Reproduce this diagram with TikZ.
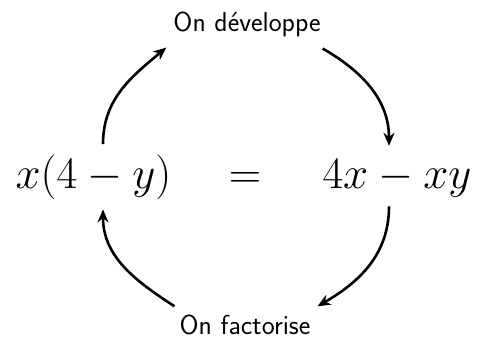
\RequirePackage{fix-cm}
\documentclass[tikz,border=0pt]{standalone}
\usepackage{amsmath}
\usepackage{tikz}
\usetikzlibrary{arrows.meta, positioning}

\begin{document}
\begin{tikzpicture}[x=1pt, y=1pt,
    expr/.style={inner sep=0pt, anchor=base, font=\fontsize{45}{50}\selectfont},
    legende/.style={inner sep=0pt, anchor=base, font=\fontsize{27.5}{30}\selectfont\sffamily},
    fleche/.style={line width=2.6pt, -{Stealth[length=13pt, width=11pt]}}]
    \useasboundingbox (0,0) rectangle (477,340);

    \node[expr] (gauche) at (93.5,151) {$x(4-y)$};
    \node[expr] (egal) at (245,151) {$=$};
    \node[expr] (droite) at (397,151) {$4x-xy$};

    \node[legende] (dev) at (247,308) {On développe};
    \node[legende] (fact) at (245,5) {On factorise};

    % developpement
    \draw[fleche] ([shift={(9.5,11)}]gauche.north) to[out=90, in=220] ([shift={(-7,-10)}]dev.south west);
    \draw[fleche] ([shift={(2,-11)}]dev.south east) to[out=-30, in=90] ([shift={(-8,14)}]droite.north);
    % factorisation
    \draw[fleche] ([shift={(-8,-8.5)}]droite.south) to[out=-90, in=30] ([shift={(7,9)}]fact.north east);
    \draw[fleche] ([shift={(-5,9)}]fact.north west) to[out=147, in=-90] ([shift={(9.5,-9)}]gauche.south);
\end{tikzpicture}
\end{document}
